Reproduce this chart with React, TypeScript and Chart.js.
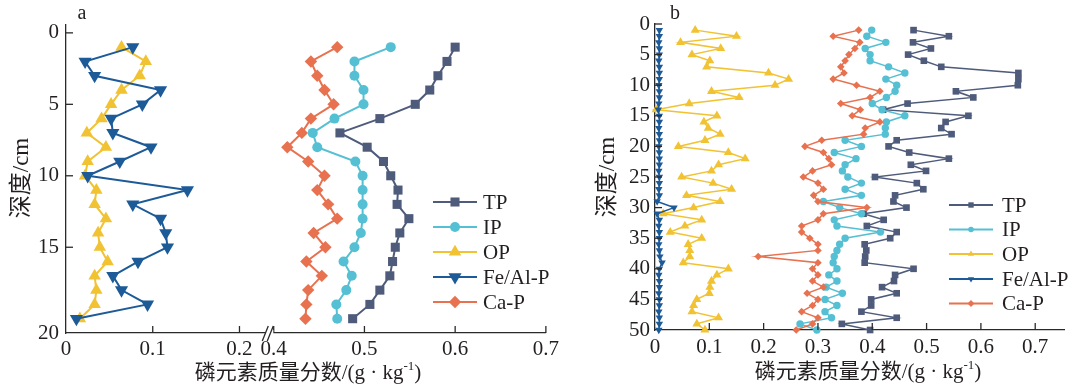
import React, { useEffect, useRef } from 'react';
import { Chart, registerables } from 'chart.js';

Chart.register(...registerables);

const FONT = '"Liberation Serif", "Times New Roman", "Noto Sans CJK SC", serif';
const TEXT_COLOR = '#231f20';
const AXIS_COLOR = '#2a2a2a';

const seriesNames = ['TP', 'IP', 'OP', 'Fe/Al-P', 'Ca-P'];
const seriesColors = ['#4f5b7b', '#55bfd3', '#f1c232', '#1d5a98', '#e8714f'];
const seriesMarkers = ['rect', 'circle', 'triangle', 'triangle', 'rectRot'];
const seriesRotation = [0, 0, 0, 180, 0];
const seriesOrder = [4, 2, 3, 0, 1];

const xTitleMain = '磷元素质量分数/(g · kg';
const xTitleSup = '-1';
const xTitleTail = ')';
const yTitle = '深度/cm';

// ---------- panel a ----------
const depthA = [1, 2, 3, 4, 5, 6, 7, 8, 9, 10, 11, 12, 13, 14, 15, 16, 17, 18, 19, 20];
const tpA = [0.600, 0.591, 0.581, 0.572, 0.556, 0.517, 0.473, 0.503, 0.521, 0.529, 0.537, 0.536, 0.549, 0.539, 0.534, 0.531, 0.528, 0.517, 0.506, 0.487];
const ipA = [0.529, 0.489, 0.489, 0.499, 0.499, 0.467, 0.443, 0.448, 0.490, 0.498, 0.498, 0.498, 0.498, 0.496, 0.489, 0.477, 0.486, 0.480, 0.469, 0.470];
const opA = [0.064, 0.092, 0.085, 0.064, 0.052, 0.041, 0.024, 0.046, 0.025, 0.022, 0.035, 0.033, 0.046, 0.037, 0.039, 0.048, 0.033, 0.035, 0.033, 0.016];
const feA = [0.077, 0.022, 0.033, 0.109, 0.088, 0.052, 0.054, 0.098, 0.062, 0.025, 0.140, 0.077, 0.109, 0.115, 0.117, 0.083, 0.054, 0.064, 0.094, 0.012];
const caA = [0.470, 0.441, 0.448, 0.456, 0.466, 0.441, 0.431, 0.415, 0.438, 0.456, 0.448, 0.460, 0.470, 0.444, 0.457, 0.436, 0.453, 0.438, 0.436, 0.435];
const xTicksLeftA = [0, 0.1, 0.2];
const xTicksRightA = [0.4, 0.5, 0.6, 0.7];
const yTickValuesA = [0, 5, 10, 15, 21];
const yTickLabelsA = ['0', '5', '10', '15', '20'];

// ---------- panel b ----------
const depthB = [1, 2, 3, 4, 5, 6, 7, 8, 9, 10, 11, 12, 13, 14, 15, 16, 17, 18, 19, 20, 21, 22, 23, 24, 25, 26, 27, 28, 29, 30, 31, 32, 33, 34, 35, 36, 37, 38, 39, 40, 41, 42, 43, 44, 45, 46, 47, 48, 49, 50];
const tpB = [0.476, 0.541, 0.475, 0.508, 0.466, 0.495, 0.527, 0.669, 0.669, 0.668, 0.554, 0.586, 0.465, 0.420, 0.577, 0.535, 0.527, 0.546, 0.445, 0.430, 0.468, 0.541, 0.471, 0.499, 0.405, 0.482, 0.494, 0.442, 0.439, 0.463, 0.384, 0.421, 0.390, 0.445, 0.433, 0.386, 0.389, 0.387, 0.386, 0.476, 0.442, 0.440, 0.418, 0.445, 0.398, 0.398, 0.380, 0.445, 0.344, 0.396];
const ipB = [0.399, 0.390, 0.425, 0.387, 0.396, 0.396, 0.430, 0.460, 0.425, 0.445, 0.442, 0.426, 0.400, 0.418, 0.460, 0.426, 0.424, 0.424, 0.350, 0.380, 0.330, 0.370, 0.350, 0.345, 0.355, 0.380, 0.350, 0.380, 0.310, 0.340, 0.380, 0.330, 0.335, 0.415, 0.350, 0.340, 0.335, 0.330, 0.328, 0.335, 0.320, 0.335, 0.315, 0.345, 0.313, 0.335, 0.313, 0.325, 0.267, 0.298];
const opB = [0.074, 0.150, 0.047, 0.121, 0.068, 0.101, 0.095, 0.209, 0.246, 0.221, 0.104, 0.155, 0.063, 0.002, 0.114, 0.090, 0.098, 0.120, 0.092, 0.043, 0.135, 0.166, 0.117, 0.104, 0.049, 0.107, 0.141, 0.058, 0.120, 0.071, 0.015, 0.086, 0.055, 0.028, 0.086, 0.061, 0.064, 0.064, 0.052, 0.135, 0.114, 0.104, 0.101, 0.100, 0.077, 0.071, 0.068, 0.117, 0.077, 0.092];
const feB = [0.008, 0.008, 0.007, 0.008, 0.008, 0.007, 0.008, 0.008, 0.008, 0.007, 0.008, 0.008, 0.007, 0.006, 0.008, 0.008, 0.007, 0.008, 0.008, 0.007, 0.008, 0.008, 0.008, 0.007, 0.008, 0.008, 0.007, 0.008, 0.004, 0.035, 0.004, 0.008, 0.007, 0.008, 0.008, 0.007, 0.008, 0.009, 0.013, 0.008, 0.007, 0.008, 0.008, 0.007, 0.008, 0.008, 0.007, 0.008, 0.008, 0.007];
const caB = [0.375, 0.328, 0.377, 0.368, 0.357, 0.350, 0.342, 0.348, 0.328, 0.371, 0.414, 0.396, 0.342, 0.378, 0.363, 0.414, 0.387, 0.384, 0.307, 0.276, 0.310, 0.320, 0.325, 0.290, 0.273, 0.300, 0.310, 0.292, 0.300, 0.390, 0.310, 0.300, 0.270, 0.270, 0.285, 0.300, 0.300, 0.190, 0.300, 0.290, 0.300, 0.290, 0.310, 0.280, 0.300, 0.290, 0.270, 0.300, 0.290, 0.260];
const xTicksB = [0, 0.1, 0.2, 0.3, 0.4, 0.5, 0.6, 0.7];
const yTicksB = [0, 5, 10, 15, 20, 25, 30, 35, 40, 45, 50];

function drawMarker(ctx: CanvasRenderingContext2D, style: string, x: number, y: number, r: number, rot: number) {
  ctx.beginPath();
  if (style === 'circle') {
    ctx.arc(x, y, r, 0, Math.PI * 2);
  } else if (style === 'rect') {
    const s = r * Math.SQRT1_2;
    ctx.rect(x - s, y - s, 2 * s, 2 * s);
  } else if (style === 'rectRot') {
    ctx.moveTo(x, y - r);
    ctx.lineTo(x + r, y);
    ctx.lineTo(x, y + r);
    ctx.lineTo(x - r, y);
    ctx.closePath();
  } else {
    let a = (rot * Math.PI) / 180;
    for (let k = 0; k < 3; k++) {
      const px = x + Math.sin(a) * r;
      const py = y - Math.cos(a) * r;
      if (k === 0) ctx.moveTo(px, py); else ctx.lineTo(px, py);
      a += (2 * Math.PI) / 3;
    }
    ctx.closePath();
  }
  ctx.fill();
}

function drawXTitle(ctx: CanvasRenderingContext2D, cx: number, cy: number, size: number) {
  ctx.save();
  ctx.fillStyle = TEXT_COLOR;
  ctx.textBaseline = 'middle';
  ctx.textAlign = 'left';
  const big = `${size}px ${FONT}`;
  const small = `${Math.round(size * 0.6)}px ${FONT}`;
  ctx.font = big;
  const w1 = ctx.measureText(xTitleMain).width;
  const w3 = ctx.measureText(xTitleTail).width;
  ctx.font = small;
  const w2 = ctx.measureText(xTitleSup).width;
  let x = cx - (w1 + w2 + w3) / 2;
  ctx.font = big;
  ctx.fillText(xTitleMain, x, cy);
  x += w1;
  ctx.font = small;
  ctx.fillText(xTitleSup, x, cy - size * 0.32);
  x += w2;
  ctx.font = big;
  ctx.fillText(xTitleTail, x, cy);
  ctx.restore();
}

function drawYTitle(ctx: CanvasRenderingContext2D, cx: number, cy: number, size: number) {
  ctx.save();
  ctx.translate(cx, cy);
  ctx.rotate(-Math.PI / 2);
  ctx.fillStyle = TEXT_COLOR;
  ctx.font = `${size}px ${FONT}`;
  ctx.textAlign = 'center';
  ctx.textBaseline = 'middle';
  ctx.fillText(yTitle, 0, 0);
  ctx.restore();
}

interface DecorCfg {
  panelLabel: string;
  panelPos: [number, number];
  yTitlePos: [number, number];
  xTitlePos: [number, number];
  legendLine: [number, number];
  legendMarkerX: number;
  legendTextX: number;
  legendRows: number[];
  legendRadii: number[];
  legendLineWidth: number;
  tickLen: number;
  breakAxis?: string;
}

function makeDecor(cfg: DecorCfg) {
  return {
    id: 'decor',
    afterDraw(chart: any) {
      const ctx: CanvasRenderingContext2D = chart.ctx;
      const area = chart.chartArea;
      ctx.save();
      // inward ticks
      ctx.strokeStyle = AXIS_COLOR;
      ctx.lineWidth = 1.3;
      Object.values(chart.scales).forEach((s: any) => {
        s.ticks.forEach((t: any) => {
          const p = s.getPixelForValue(t.value);
          ctx.beginPath();
          if (s.axis === 'x') {
            if (Math.abs(p - area.left) < 2) return;
            ctx.moveTo(p, area.bottom);
            ctx.lineTo(p, area.bottom - cfg.tickLen);
          } else {
            if (Math.abs(p - area.bottom) < 2) return;
            ctx.moveTo(area.left, p);
            ctx.lineTo(area.left + cfg.tickLen, p);
          }
          ctx.stroke();
        });
      });
      // axis break
      if (cfg.breakAxis) {
        const bx = chart.scales[cfg.breakAxis].right;
        const by = area.bottom;
        ctx.fillStyle = '#ffffff';
        ctx.fillRect(bx - 1, by - 3, 8, 6);
        ctx.strokeStyle = AXIS_COLOR;
        ctx.lineWidth = 1.3;
        ctx.beginPath();
        ctx.moveTo(bx - 4, by + 8);
        ctx.lineTo(bx + 2, by - 7);
        ctx.moveTo(bx + 1, by + 8);
        ctx.lineTo(bx + 7, by - 7);
        ctx.stroke();
      }
      // panel label
      ctx.fillStyle = TEXT_COLOR;
      ctx.font = `20px ${FONT}`;
      ctx.textAlign = 'center';
      ctx.textBaseline = 'middle';
      ctx.fillText(cfg.panelLabel, cfg.panelPos[0], cfg.panelPos[1]);
      drawYTitle(ctx, cfg.yTitlePos[0], cfg.yTitlePos[1], 23);
      drawXTitle(ctx, cfg.xTitlePos[0], cfg.xTitlePos[1], 21);
      // legend
      seriesNames.forEach((name, k) => {
        const y = cfg.legendRows[k];
        ctx.strokeStyle = seriesColors[k];
        ctx.lineWidth = cfg.legendLineWidth;
        ctx.beginPath();
        ctx.moveTo(cfg.legendLine[0], y);
        ctx.lineTo(cfg.legendLine[1], y);
        ctx.stroke();
        ctx.fillStyle = seriesColors[k];
        drawMarker(ctx, seriesMarkers[k], cfg.legendMarkerX, y, cfg.legendRadii[k], seriesRotation[k]);
        ctx.fillStyle = TEXT_COLOR;
        ctx.font = `21px ${FONT}`;
        ctx.textAlign = 'left';
        ctx.textBaseline = 'middle';
        ctx.fillText(name, cfg.legendTextX, y + 1);
      });
      ctx.restore();
    },
  };
}

function tickFont() {
  return { family: FONT, size: 21 };
}

function makeDatasets(values: number[][], depth: number[], axes: string[], radii: number[], lineWidth: number) {
  return values.map((vals, k) => ({
    label: seriesNames[k],
    data: vals.map((v, i) => ({ x: v, y: depth[i] })),
    xAxisID: axes[k],
    yAxisID: 'y',
    borderColor: seriesColors[k],
    backgroundColor: seriesColors[k],
    pointBackgroundColor: seriesColors[k],
    pointBorderColor: seriesColors[k],
    pointBorderWidth: 0,
    borderWidth: lineWidth,
    pointStyle: seriesMarkers[k],
    rotation: seriesRotation[k],
    pointRotation: seriesRotation[k],
    pointRadius: radii[k],
    pointHoverRadius: radii[k],
    order: seriesOrder[k],
    tension: 0,
    fill: false,
    clip: false,
  }));
}

function xAxis(extra: any, ticks: number[], height: number, pad: number) {
  return {
    type: 'linear',
    position: 'bottom',
    ...extra,
    grid: { display: false, drawTicks: false },
    border: { display: true, color: AXIS_COLOR, width: 1.3 },
    afterBuildTicks: (s: any) => { s.ticks = ticks.map((v) => ({ value: v })); },
    afterFit: (s: any) => { s.height = height; },
    ticks: {
      font: tickFont(), color: TEXT_COLOR, padding: pad, autoSkip: false, maxRotation: 0, minRotation: 0,
      callback: (v: any) => String(v),
    },
  };
}

function buildChartA(canvas: HTMLCanvasElement) {
  const datasets = makeDatasets([tpA, ipA, opA, feA, caA], depthA, ['xR', 'xR', 'xL', 'xL', 'xR'], [6.4, 5, 7.2, 7.6, 6.2], 2);
  return new Chart(canvas, {
    type: 'line',
    data: { datasets } as any,
    options: {
      responsive: false,
      animation: false,
      devicePixelRatio: 1,
      indexAxis: 'y',
      layout: { padding: { left: 0, right: 13, top: 25, bottom: 0 } },
      plugins: { legend: { display: false }, tooltip: { enabled: false } },
      scales: {
        xL: xAxis({ stack: 'xa', stackWeight: 202, min: 0, max: 0.2309 }, xTicksLeftA, 56, 4),
        xR: xAxis({ stack: 'xa', stackWeight: 282, min: 0.3918, max: 0.7 }, xTicksRightA, 56, 4),
        y: {
          type: 'linear',
          position: 'left',
          reverse: true,
          min: -0.55,
          max: 21,
          grid: { display: false, drawTicks: false },
          border: { display: true, color: AXIS_COLOR, width: 1.3 },
          afterBuildTicks: (s: any) => { s.ticks = yTickValuesA.map((v) => ({ value: v })); },
          afterFit: (s: any) => { s.width = 66; },
          ticks: {
            font: tickFont(), color: TEXT_COLOR, padding: 7, autoSkip: false,
            callback: (v: any) => { const i = yTickValuesA.indexOf(v); return i >= 0 ? yTickLabelsA[i] : ''; },
          },
        },
      } as any,
    },
    plugins: [makeDecor({
      panelLabel: 'a', panelPos: [82, 14], yTitlePos: [22, 178], xTitlePos: [308, 373],
      legendLine: [433, 477], legendMarkerX: 455, legendTextX: 483,
      legendRows: [202, 227, 252, 277, 302], legendRadii: [6.4, 5, 7.2, 7.6, 6.2], legendLineWidth: 2.2,
      tickLen: 7, breakAxis: 'xL',
    })],
  } as any);
}

function buildChartB(canvas: HTMLCanvasElement) {
  const datasets = makeDatasets([tpB, ipB, opB, feB, caB], depthB, ['x', 'x', 'x', 'x', 'x'], [4.7, 3.7, 5.2, 4.3, 3.8], 1.5);
  return new Chart(canvas, {
    type: 'line',
    data: { datasets } as any,
    options: {
      responsive: false,
      animation: false,
      devicePixelRatio: 1,
      indexAxis: 'y',
      layout: { padding: { left: 0, right: 9, top: 24, bottom: 0 } },
      plugins: { legend: { display: false }, tooltip: { enabled: false } },
      scales: {
        x: xAxis({ min: 0, max: 0.753 }, xTicksB, 59, 5),
        y: {
          type: 'linear',
          position: 'left',
          reverse: true,
          min: 0,
          max: 50,
          grid: { display: false, drawTicks: false },
          border: { display: true, color: AXIS_COLOR, width: 1.3 },
          afterBuildTicks: (s: any) => { s.ticks = yTicksB.map((v) => ({ value: v })); },
          afterFit: (s: any) => { s.width = 92; },
          ticks: { font: tickFont(), color: TEXT_COLOR, padding: 5, autoSkip: false, callback: (v: any) => String(v) },
        },
      } as any,
    },
    plugins: [makeDecor({
      panelLabel: 'b', panelPos: [112, 14], yTitlePos: [45, 177], xTitlePos: [305, 372],
      legendLine: [386, 430], legendMarkerX: 408, legendTextX: 439,
      legendRows: [205, 229.5, 254, 279, 303.5], legendRadii: [3.8, 2.8, 3.6, 3.6, 3.4], legendLineWidth: 2,
      tickLen: 7,
    })],
  } as any);
}

export default function App() {
  const refA = useRef<HTMLCanvasElement>(null);
  const refB = useRef<HTMLCanvasElement>(null);
  useEffect(() => {
    const ca = buildChartA(refA.current as HTMLCanvasElement);
    const cb = buildChartB(refB.current as HTMLCanvasElement);
    return () => {
      ca.destroy();
      cb.destroy();
    };
  }, []);
  return (
    <div style={{ position: 'absolute', left: 0, top: 0, width: 1073, height: 389, background: '#ffffff' }}>
      <canvas ref={refA} width={563} height={389} style={{ position: 'absolute', left: 0, top: 0 }} />
      <canvas ref={refB} width={510} height={389} style={{ position: 'absolute', left: 563, top: 0 }} />
    </div>
  );
}
